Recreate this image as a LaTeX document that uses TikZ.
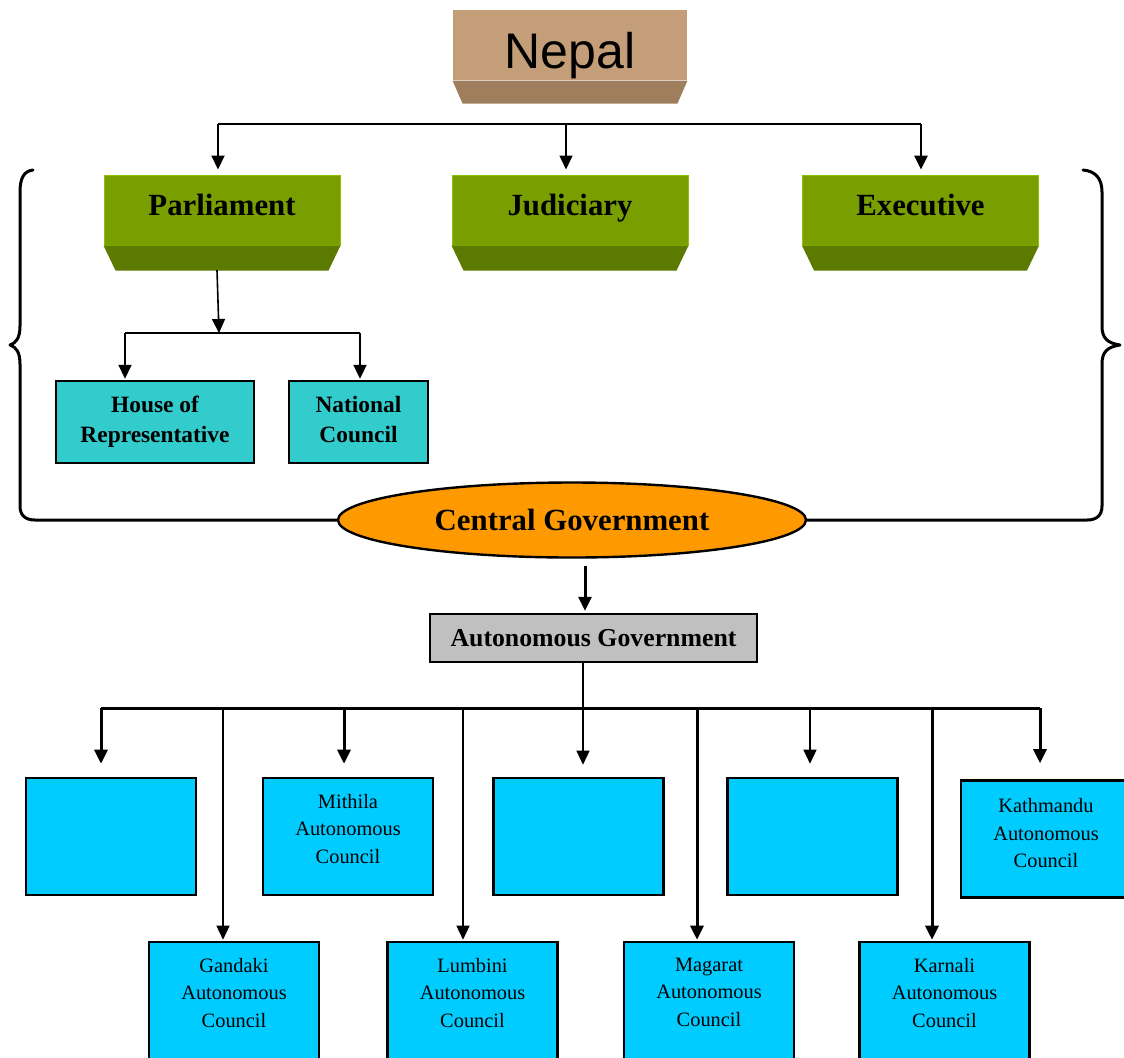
\documentclass[tikz,border=0pt]{standalone}
\usepackage{fontspec}
\setmainfont{Liberation Serif}
\newfontfamily\nepalfont{Liberation Sans}
\usetikzlibrary{arrows.meta,positioning,calc,shapes.geometric}

\definecolor{tanface}{HTML}{C49E78}
\definecolor{tanbevel}{HTML}{9E7E5C}
\definecolor{greenface}{HTML}{789E00}
\definecolor{greenbevel}{HTML}{5C7A00}
\definecolor{greenedge}{HTML}{8CC000}
\definecolor{houseteal}{HTML}{33CCCC}
\definecolor{councilblue}{HTML}{00CCFF}
\definecolor{centralorange}{HTML}{FF9900}
\definecolor{autogray}{HTML}{C0C0C0}

\tikzset{
  arr/.style={-{Triangle[length=7pt,width=6.5pt]}},
  organ/.style={rectangle, fill=greenface, draw=greenedge, line width=0.5pt,
    minimum width=118pt, minimum height=35pt, inner ysep=0pt,
    text height=20pt, text depth=15pt, font=\fontsize{15.4}{18}\selectfont\bfseries},
  house/.style={rectangle, fill=houseteal, draw=black, line width=1.2pt,
    minimum height=41pt, align=center, font=\fontsize{11.7}{15}\selectfont\bfseries},
  council/.style={rectangle, fill=councilblue, draw=black, line width=1.3pt,
    minimum width=85pt, minimum height=58.5pt},
  ctext/.style={align=center, inner sep=0pt, font=\fontsize{10.2}{13.7}\selectfont},
  brace/.style={line width=1.5pt, line cap=round, line join=round}
}

\begin{document}
\begin{tikzpicture}[x=0.5pt,y=-0.5pt]
        \clip (0,0) rectangle (1124,1057);

        % Nepal at the top
        \node[organ, fill=tanface, draw=none, minimum width=117pt, text height=29pt, text depth=6pt,
          font=\nepalfont\fontsize{25}{30}\selectfont] (nepal) at (570,45) {Nepal};
        \fill[tanbevel] (nepal.south west) -- (nepal.south east) -- ($(nepal.south east)+(-10,23)$)
          -- ($(nepal.south west)+(10,23)$) -- cycle;

        % The three organs of the state
        \node[organ] (parl) at (222,210) {Parliament};
        \node[organ] (jud) at (570,210) {Judiciary};
        \node[organ] (exec) at (920.5,210) {Executive};
        \foreach \n in {parl,jud,exec}
          \fill[greenbevel] (\n.south west) -- (\n.south east) -- ($(\n.south east)+(-12,25)$)
            -- ($(\n.south west)+(12,25)$) -- cycle;

        % Line over the organs and its arrows
        \coordinate (topl) at (218,124);
        \coordinate (topm) at (566,124);
        \coordinate (topr) at (921,124);
        \draw[line width=1pt] (topl) -- (topr);
        \draw[arr, line width=1pt, shorten >=2.5pt] (topl) -- (topl |- parl.north);
        \draw[arr, line width=0.7pt, shorten >=2.5pt] (topm) -- (topm |- jud.north);
        \draw[arr, line width=1.4pt, shorten >=2.5pt] (topr) -- (topr |- exec.north);

        % Two houses of parliament
        \node[house, minimum width=99pt] (house) at (155,422) {House of\\Representative};
        \node[house, minimum width=69.5pt] (natl) at (358.5,422) {National\\Council\vphantom{p}};
        \coordinate (parlbot) at (217,270);
        \coordinate (hbus) at (219,333);
        \coordinate (hl) at (125,333);
        \coordinate (hr) at (360,333);
        \draw[arr, line width=0.8pt] (parlbot) -- (hbus);
        \draw[line width=1pt] (hl) -- (hr);
        \draw[arr, line width=0.8pt, shorten >=0.5pt] (hl) -- (hl |- house.north);
        \draw[arr, line width=1pt, shorten >=0.5pt] (hr) -- (hr |- natl.north);

        % Central government with the braces
        \node[ellipse, fill=centralorange, draw=black, line width=1.2pt, minimum width=234pt,
          minimum height=37.5pt, font=\fontsize{15.4}{18}\selectfont\bfseries] (cg) at (572,520) {Central Government};
        \draw[brace] (33,170) .. controls (24,171) and (20,178) .. (20,192) -- (20,326)
          .. controls (20,338) and (16,343) .. (10,345) .. controls (16,347) and (20,352) .. (20,364)
          -- (20,506) .. controls (20,515) and (25,520) .. (35,520) -- (cg.west);
        \draw[brace] (1083,170) .. controls (1095,171) and (1102,178) .. (1102,192) -- (1102,326)
          .. controls (1102,338) and (1107,343) .. (1120,345) .. controls (1107,347) and (1102,352) .. (1102,364)
          -- (1102,506) .. controls (1102,515) and (1097,520) .. (1087,520) -- (cg.east);

        % Autonomous government
        \node[rectangle, fill=autogray, draw=black, line width=1.2pt, minimum width=163.5pt,
          minimum height=24pt, font=\fontsize{12.9}{15}\selectfont\bfseries] (ag) at (593.5,638) {Autonomous Government};
        \coordinate (cgdown) at (585,520);
        \draw[arr, line width=1.5pt, shorten <=3.5pt, shorten >=1pt] (cgdown |- cg.south) -- (cgdown |- ag.north);

        % Councils, upper row
        \node[council] (c1) at (111,836.5) {};
        \node[council] (mithila) at (348,836.5) {};
        \node[council] (c3) at (578.5,836.5) {};
        \node[council] (c4) at (812.5,836.5) {};
        \node[council] (kathmandu) at (1046,839) {};
        \node[ctext, below=8.5pt of mithila.north] {Mithila\\Autonomous\\Council};
        \node[ctext, below=9.5pt of kathmandu.north] {Kathmandu\\Autonomous\\Council};

        % Councils, lower row
        \node[council] (gandaki) at (234,1000.5) {};
        \node[council] (lumbini) at (472.5,1000.5) {};
        \node[council] (magarat) at (709,1000.5) {};
        \node[council] (karnali) at (944.5,1000.5) {};
        \node[ctext, below=8.5pt of gandaki.north] {Gandaki\\Autonomous\\Council};
        \node[ctext, below=8.5pt of lumbini.north] {Lumbini\\Autonomous\\Council};
        \node[ctext, below=8.5pt of magarat.north] {Magarat\\Autonomous\\Council};
        \node[ctext, below=8.5pt of karnali.north] {Karnali\\Autonomous\\Council};

        % Line to the councils and its arrows
        \coordinate (agbus) at (583,708);
        \coordinate (bl) at (101,708);
        \coordinate (br) at (1040,708);
        \draw[line width=0.7pt] (agbus |- ag.south) -- (agbus);
        \draw[line width=1.5pt] (bl) -- (br);
        \draw[arr, line width=1.5pt, shorten >=6.5pt] (bl) -- (bl |- c1.north);
        \draw[arr, line width=1.5pt, shorten >=6.5pt] (344,708) -- (344,708 |- mithila.north);
        \draw[arr, line width=0.7pt, shorten >=6pt] (agbus) -- (agbus |- c3.north);
        \draw[arr, line width=0.7pt, shorten >=6.5pt] (810,708) -- (810,708 |- c4.north);
        \draw[arr, line width=1.5pt, shorten >=8pt] (br) -- (br |- kathmandu.north);
        \draw[arr, line width=0.7pt, shorten >=0.5pt] (223,708) -- (223,708 |- gandaki.north);
        \draw[arr, line width=0.7pt, shorten >=0.5pt] (463,708) -- (463,708 |- lumbini.north);
        \draw[arr, line width=1.5pt, shorten >=0.5pt] (697,708) -- (697,708 |- magarat.north);
        \draw[arr, line width=1.5pt, shorten >=0.5pt] (932,708) -- (932,708 |- karnali.north);
\end{tikzpicture}
\end{document}
